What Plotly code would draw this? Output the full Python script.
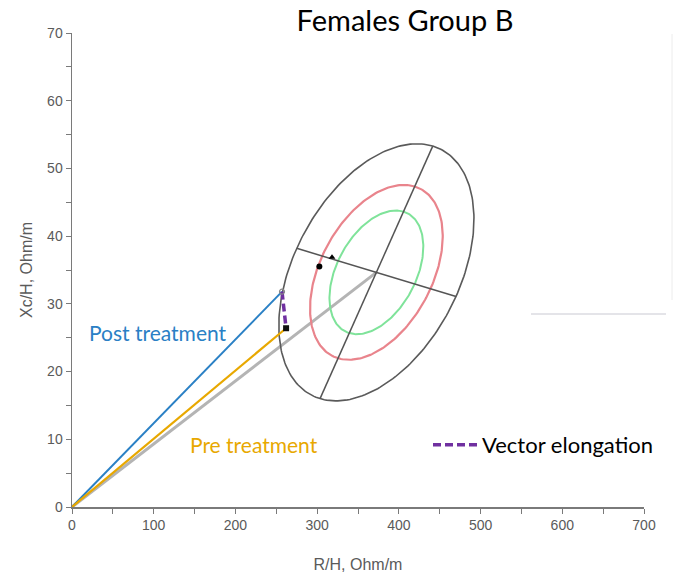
import numpy as np
import plotly.graph_objects as go

# ---------------- data ----------------
x_range = [0, 700]
y_range = [0, 70]
x_tick_vals = [0, 100, 200, 300, 400, 500, 600, 700]
y_tick_vals = [0, 10, 20, 30, 40, 50, 60, 70]

origin = [0.0, 0.0]
post_vector = [257.0, 31.8]      # R/H, Xc/H after treatment
pre_vector = [262.0, 26.4]       # R/H, Xc/H before treatment

ref_center = [372.5, 34.65]      # reference population mean vector
ref_semi_major = [68.95, 18.65]  # 95% ellipse semi-axis (long)
ref_semi_minor = [97.5, -3.55]   # 95% ellipse semi-axis (short)
ellipse_levels = ["50%", "75%", "95%"]
ellipse_scale = [0.481, 0.680, 1.0]

group_x = [302.7, 318.2]
group_y = [35.5, 36.9]
group_symbols = ["circle", "triangle-up"]

labels = {"post": "Post treatment", "pre": "Pre treatment", "vec": "Vector elongation"}
title_text = "Females Group B"

# ---------------- style ----------------
ellipse_colors = {"50%": "#7fe39a", "75%": "#e9848c", "95%": "#5a5a5a"}
ellipse_widths = {"50%": 2, "75%": 2.2, "95%": 1.6}
BLUE = "#2a80c5"
ORANGE = "#e8a800"
PURPLE = "#7030a0"
FONT_TXT = "Lato"
FONT_AX = "Liberation Sans"
AX_COL = "#5a5a5a"

W, H = 676, 577
ML, MT = 72, 33
PW, PH = 572, 474


def px_x(px):
    return (px - ML) / PW


def px_y(py):
    return 1 - (py - MT) / PH


fig = go.Figure()

# grey line from origin to reference center
fig.add_trace(go.Scatter(x=[origin[0], ref_center[0]], y=[origin[1], ref_center[1]],
                         mode="lines", line=dict(color="#b4b4b4", width=3),
                         showlegend=False, hoverinfo="skip"))

# tolerance ellipses
t = np.linspace(0, 2 * np.pi, 241)
for lev, s in zip(ellipse_levels, ellipse_scale):
    ex = ref_center[0] + s * (np.cos(t) * ref_semi_major[0] + np.sin(t) * ref_semi_minor[0])
    ey = ref_center[1] + s * (np.cos(t) * ref_semi_major[1] + np.sin(t) * ref_semi_minor[1])
    fig.add_trace(go.Scatter(x=ex, y=ey, mode="lines",
                             line=dict(color=ellipse_colors[lev], width=ellipse_widths[lev]),
                             showlegend=False, hoverinfo="skip"))

# ellipse axes
for ax in (ref_semi_major, ref_semi_minor):
    fig.add_trace(go.Scatter(x=[ref_center[0] - ax[0], ref_center[0] + ax[0]],
                             y=[ref_center[1] - ax[1], ref_center[1] + ax[1]],
                             mode="lines", line=dict(color="#555555", width=1.5),
                             showlegend=False, hoverinfo="skip"))

# group mean points
fig.add_trace(go.Scatter(x=group_x, y=group_y, mode="markers",
                         marker=dict(color="black", size=6, symbol=group_symbols),
                         showlegend=False, hoverinfo="skip"))

# vectors
fig.add_trace(go.Scatter(x=[origin[0], post_vector[0]], y=[origin[1], post_vector[1]],
                         mode="lines", line=dict(color=BLUE, width=2), showlegend=False))
fig.add_trace(go.Scatter(x=[origin[0], pre_vector[0]], y=[origin[1], pre_vector[1]],
                         mode="lines", line=dict(color=ORANGE, width=2.2), showlegend=False))

# vector elongation
fig.add_trace(go.Scatter(x=[post_vector[0], pre_vector[0]], y=[post_vector[1], pre_vector[1]],
                         mode="lines", line=dict(color=PURPLE, width=3.5, dash="8px,4px"),
                         name=labels["vec"], showlegend=True))
fig.add_trace(go.Scatter(x=[post_vector[0]], y=[post_vector[1]], mode="markers",
                         marker=dict(color="rgba(0,0,0,0)", size=5,
                                     line=dict(color="#888888", width=1.2)),
                         showlegend=False))
fig.add_trace(go.Scatter(x=[pre_vector[0]], y=[pre_vector[1]], mode="markers",
                         marker=dict(color="#111111", size=6, symbol="square"),
                         showlegend=False))

# text labels
fig.add_annotation(text=labels["post"], xref="paper", yref="paper",
                   x=px_x(158), y=px_y(332), xanchor="center", yanchor="middle",
                   showarrow=False, font=dict(family=FONT_TXT, size=21, color=BLUE))
fig.add_annotation(text=labels["pre"], xref="paper", yref="paper",
                   x=px_x(254), y=px_y(444), xanchor="center", yanchor="middle",
                   showarrow=False, font=dict(family=FONT_TXT, size=21, color=ORANGE))

# stray lines at right (from source image)
fig.add_shape(type="line", xref="paper", yref="paper",
              x0=px_x(531), x1=px_x(666), y0=px_y(314), y1=px_y(314),
              line=dict(color="#c9c9d2", width=1))
fig.add_shape(type="line", xref="paper", yref="paper",
              x0=px_x(672), x1=px_x(672), y0=px_y(34), y1=px_y(300),
              line=dict(color="#ececec", width=1))

axis_common = dict(showgrid=False, zeroline=False, showline=True, linecolor="#7a7a7a",
                   linewidth=1.5, ticks="outside", ticklen=5, tickcolor="#7a7a7a",
                   tickfont=dict(family=FONT_AX, size=14, color=AX_COL),
                   fixedrange=True, automargin=False)

fig.update_layout(
    width=W, height=H,
    margin=dict(l=ML, r=W - ML - PW, t=MT, b=H - MT - PH),
    paper_bgcolor="white", plot_bgcolor="white",
    hovermode=False,
    title=dict(text=title_text, x=405 / W, xanchor="center", y=1 - 21 / H,
               yanchor="middle", font=dict(family=FONT_TXT, size=29, color="black")),
    xaxis=dict(range=x_range, tickvals=x_tick_vals, ticktext=[str(v) for v in x_tick_vals],
               minor=dict(dtick=50, tick0=0, ticks="outside", ticklen=5, tickcolor="#7a7a7a"),
               title=dict(text="R/H, Ohm/m", standoff=26,
                          font=dict(family=FONT_AX, size=16, color=AX_COL)),
               **axis_common),
    yaxis=dict(range=y_range, tickvals=y_tick_vals, ticktext=[str(v) for v in y_tick_vals],
               minor=dict(dtick=5, tick0=0, ticks="outside", ticklen=5, tickcolor="#7a7a7a"),
               title=dict(text="Xc/H, Ohm/m", standoff=10,
                          font=dict(family=FONT_AX, size=16, color=AX_COL)),
               **axis_common),
    legend=dict(x=px_x(428), y=px_y(445), xanchor="left", yanchor="middle",
                bgcolor="rgba(0,0,0,0)", itemwidth=44,
                font=dict(family=FONT_TXT, size=22, color="black")),
)

fig.write_html("out.html", config={"displayModeBar": False, "staticPlot": True},
               post_script="document.body.style.margin='0px';"
                           "document.body.style.overflow='hidden';")
